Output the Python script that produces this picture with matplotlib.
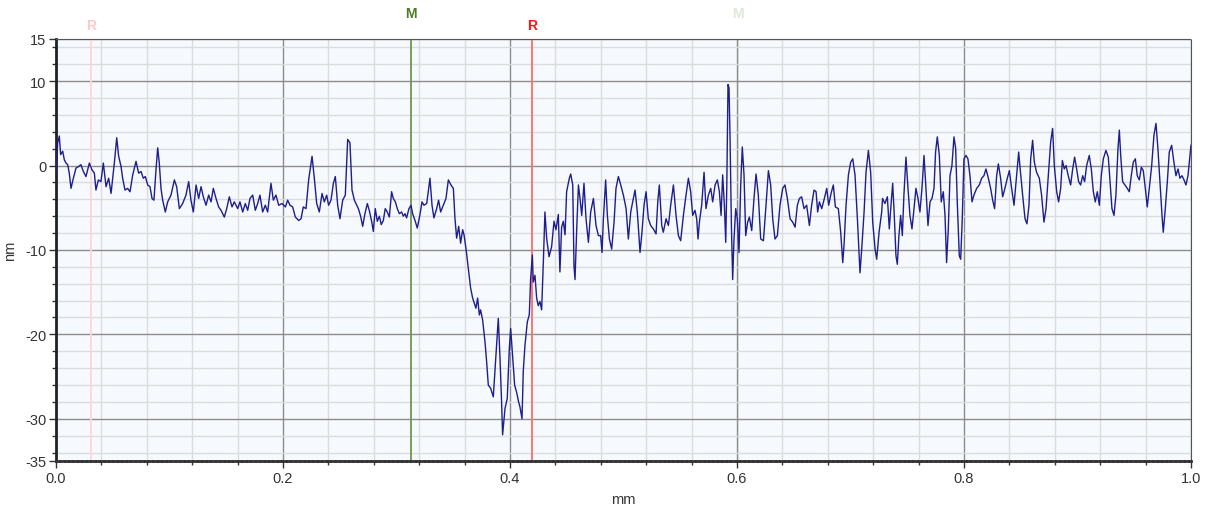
import numpy as np
import matplotlib.pyplot as plt
from matplotlib.ticker import MultipleLocator

plt.rcParams['font.family'] = ['Liberation Sans', 'DejaVu Sans']
plt.rcParams['axes.unicode_minus'] = False

# profile trace, (position mm, height nm), split into four stretches
trace_flat = [
    (0.0000, -0.9), (0.0015, 2.7), (0.0029, 3.5), (0.0041, 1.3), (0.0059, 1.7), (0.0073, 0.7),
    (0.0088, 0.3), (0.0103, 0.1), (0.0117, -0.9), (0.0132, -2.7), (0.0153, -1.5), (0.0176, -0.3),
    (0.0200, -0.1), (0.0220, 0.1), (0.0241, -0.7), (0.0264, -1.3), (0.0294, 0.3), (0.0317, -0.5),
    (0.0338, -0.9), (0.0352, -2.9), (0.0373, -1.7), (0.0396, -1.9), (0.0417, 0.3), (0.0441, -2.5),
    (0.0464, -1.5), (0.0485, -3.3), (0.0514, 0.3), (0.0535, 3.3), (0.0552, 1.1), (0.0573, -0.1),
    (0.0587, -1.5), (0.0608, -2.9), (0.0631, -2.7), (0.0652, -3.1), (0.0676, -1.1), (0.0705, 0.5),
    (0.0728, -0.9), (0.0749, -0.7), (0.0769, -1.5), (0.0787, -1.3), (0.0808, -2.3), (0.0828, -2.5),
    (0.0846, -3.9), (0.0863, -4.1), (0.0881, -0.5), (0.0896, 2.1), (0.0910, 0.3), (0.0925, -2.7),
    (0.0940, -4.1), (0.0963, -5.5), (0.0984, -4.3), (0.1013, -3.5), (0.1043, -1.7), (0.1063, -2.5),
    (0.1087, -5.1), (0.1116, -4.5), (0.1145, -3.5), (0.1169, -1.9), (0.1189, -4.1), (0.1210, -5.5),
    (0.1234, -2.3), (0.1257, -3.9), (0.1278, -2.5), (0.1298, -3.7), (0.1322, -4.7), (0.1345, -3.5),
    (0.1366, -4.3), (0.1386, -2.7), (0.1410, -3.9), (0.1433, -4.9), (0.1454, -5.3), (0.1483, -6.1),
    (0.1504, -5.1), (0.1527, -3.7), (0.1551, -4.9), (0.1571, -4.3), (0.1601, -5.1), (0.1621, -4.3),
    (0.1645, -5.5), (0.1668, -4.5), (0.1689, -5.3), (0.1709, -3.9), (0.1733, -3.5), (0.1756, -5.3),
    (0.1777, -4.5), (0.1797, -3.5), (0.1821, -5.5), (0.1844, -4.7), (0.1865, -5.5), (0.1894, -2.1),
    (0.1915, -4.1), (0.1938, -3.5), (0.1962, -4.7), (0.1991, -4.5), (0.2021, -4.9), (0.2041, -4.1),
    (0.2062, -4.7), (0.2085, -4.9), (0.2109, -6.1), (0.2138, -6.5), (0.2159, -6.3), (0.2179, -4.9),
    (0.2203, -5.1), (0.2226, -1.7), (0.2256, 1.1), (0.2276, -1.5), (0.2297, -4.5), (0.2320, -5.5),
    (0.2344, -3.3), (0.2364, -4.3), (0.2385, -3.5), (0.2402, -4.7), (0.2423, -4.1), (0.2444, -2.1),
    (0.2461, -1.3), (0.2482, -4.7), (0.2502, -6.3), (0.2526, -4.1), (0.2549, -3.5), (0.2570, 3.1),
    (0.2590, 2.7), (0.2608, -2.9), (0.2629, -4.1),
]

trace_groove = [
    (0.2664, -5.1), (0.2684, -6.0), (0.2702, -7.2), (0.2722, -5.7), (0.2743, -4.5), (0.2760, -5.3),
    (0.2781, -6.6), (0.2796, -7.8), (0.2813, -5.1), (0.2831, -6.6), (0.2849, -6.0), (0.2866, -7.0),
    (0.2884, -6.5), (0.2901, -5.1), (0.2919, -5.5), (0.2937, -6.1), (0.2957, -3.1), (0.2972, -3.9),
    (0.2990, -4.3), (0.3007, -5.1), (0.3025, -5.7), (0.3045, -5.5), (0.3060, -6.0), (0.3075, -5.7),
    (0.3089, -6.2), (0.3110, -5.1), (0.3128, -4.7), (0.3142, -5.7), (0.3163, -6.5), (0.3183, -7.4),
    (0.3207, -5.8), (0.3225, -4.3), (0.3242, -4.7), (0.3266, -4.5), (0.3280, -3.1), (0.3295, -1.5),
    (0.3313, -4.7), (0.3330, -6.2), (0.3354, -5.1), (0.3371, -4.1), (0.3389, -5.5), (0.3412, -4.7),
    (0.3436, -3.9), (0.3457, -1.7), (0.3480, -2.3), (0.3501, -2.7), (0.3515, -6.2), (0.3530, -8.6),
    (0.3548, -7.2), (0.3565, -9.2), (0.3583, -7.6), (0.3595, -8.2), (0.3612, -9.8), (0.3633, -12.2),
    (0.3653, -14.5), (0.3671, -15.7), (0.3686, -16.3), (0.3700, -16.9), (0.3715, -15.7), (0.3730, -17.7),
    (0.3741, -17.1), (0.3759, -18.3), (0.3780, -20.9), (0.3794, -23.2), (0.3809, -26.0), (0.3830, -26.4),
    (0.3853, -27.4), (0.3871, -23.6), (0.3882, -21.3), (0.3897, -18.1), (0.3912, -22.8), (0.3926, -28.0),
    (0.3935, -31.9), (0.3956, -28.8), (0.3976, -27.6), (0.3994, -21.7), (0.4006, -19.3), (0.4023, -22.5),
    (0.4041, -26.0), (0.4059, -26.9), (0.4076, -28.0), (0.4088, -28.6), (0.4106, -30.0), (0.4117, -24.4),
    (0.4132, -21.3), (0.4153, -18.5), (0.4170, -17.7), (0.4182, -13.4), (0.4197, -10.6), (0.4205, -13.8),
    (0.4220, -13.0), (0.4235, -15.7), (0.4249, -16.6), (0.4264, -16.1), (0.4279, -17.1), (0.4294, -11.4),
    (0.4308, -5.5), (0.4323, -8.6), (0.4344, -10.8), (0.4367, -9.6), (0.4388, -6.6), (0.4405, -7.6),
    (0.4426, -5.8), (0.4440, -12.6), (0.4455, -7.3), (0.4470, -6.6), (0.4485, -8.2), (0.4499, -3.1),
]

trace_mid = [
    (0.4523, -1.5), (0.4535, -1.0), (0.4553, -2.3), (0.4564, -11.9), (0.4573, -13.5), (0.4588, -7.5),
    (0.4603, -2.3), (0.4617, -3.9), (0.4632, -5.9), (0.4652, -2.1), (0.4670, -6.3), (0.4691, -9.1),
    (0.4711, -5.5), (0.4735, -3.9), (0.4758, -7.1), (0.4779, -8.3), (0.4799, -8.3), (0.4811, -10.3),
    (0.4823, -6.3), (0.4843, -1.7), (0.4858, -5.9), (0.4876, -8.7), (0.4896, -9.9), (0.4917, -6.7),
    (0.4934, -2.7), (0.4955, -1.3), (0.4976, -2.3), (0.4999, -3.5), (0.5023, -5.1), (0.5043, -8.7),
    (0.5064, -5.5), (0.5081, -4.3), (0.5102, -2.9), (0.5122, -5.5), (0.5146, -10.3), (0.5163, -7.9),
    (0.5181, -4.7), (0.5199, -3.1), (0.5219, -6.3), (0.5240, -7.1), (0.5263, -7.5), (0.5287, -8.1),
    (0.5302, -4.3), (0.5316, -2.3), (0.5337, -7.1), (0.5351, -7.9), (0.5375, -6.3), (0.5396, -7.1),
    (0.5416, -4.7), (0.5440, -2.3), (0.5463, -5.9), (0.5484, -8.3), (0.5504, -8.9), (0.5528, -5.9),
    (0.5551, -3.5), (0.5572, -1.5), (0.5592, -3.1), (0.5610, -5.9), (0.5630, -5.3), (0.5645, -6.3),
    (0.5657, -8.7), (0.5669, -6.7), (0.5689, -4.7), (0.5710, -0.8), (0.5727, -5.1), (0.5748, -3.5),
    (0.5769, -2.7), (0.5786, -4.3), (0.5807, -2.3), (0.5827, -1.7), (0.5845, -3.1), (0.5860, -5.9),
    (0.5874, -1.1), (0.5889, -4.7), (0.5901, -9.1), (0.5910, -2.7), (0.5921, 9.6), (0.5930, 9.2),
    (0.5939, 3.2), (0.5951, -7.1), (0.5962, -13.5), (0.5974, -8.7), (0.5989, -5.1), (0.6003, -6.3),
    (0.6018, -10.3), (0.6033, -2.3), (0.6047, 2.2), (0.6062, -1.1), (0.6077, -8.3), (0.6094, -6.7),
    (0.6109, -6.1), (0.6130, -7.7), (0.6150, -3.9), (0.6168, -1.0), (0.6188, -3.5), (0.6209, -8.7),
    (0.6233, -8.9), (0.6256, -4.7), (0.6277, -0.6), (0.6297, -2.3), (0.6315, -6.3), (0.6335, -8.7),
    (0.6356, -8.3), (0.6379, -4.7), (0.6403, -2.7), (0.6423, -2.3), (0.6444, -3.9), (0.6468, -6.3),
    (0.6491, -6.7), (0.6512, -7.3), (0.6532, -4.7), (0.6550, -3.9), (0.6570, -3.7), (0.6591, -5.1),
    (0.6614, -4.7), (0.6638, -7.1), (0.6658, -4.7), (0.6679, -2.9), (0.6697, -3.1), (0.6711, -5.5),
    (0.6726, -4.3), (0.6747, -5.1), (0.6770, -3.9), (0.6791, -2.7), (0.6808, -4.7), (0.6829, -3.3),
    (0.6849, -2.3), (0.6867, -4.9), (0.6893, -5.1), (0.6914, -7.9), (0.6932, -11.5), (0.6943, -9.5),
    (0.6961, -4.7), (0.6982, -1.1), (0.7002, 0.4), (0.7020, 0.8), (0.7040, -1.1), (0.7061, -6.3),
    (0.7084, -12.7), (0.7099, -9.9), (0.7120, -5.5), (0.7137, -0.8), (0.7158, 1.8), (0.7178, -0.8),
    (0.7196, -6.7), (0.7217, -9.9), (0.7231, -11.1), (0.7252, -7.9), (0.7275, -5.5),
]

trace_right = [
    (0.7283, -3.9), (0.7304, -4.5), (0.7325, -3.7), (0.7342, -7.5), (0.7357, -4.7), (0.7372, -2.1),
    (0.7386, -5.9), (0.7401, -10.7), (0.7413, -11.7), (0.7427, -8.3), (0.7442, -5.9), (0.7457, -8.3),
    (0.7471, -3.5), (0.7489, 1.0), (0.7507, -2.7), (0.7524, -5.9), (0.7542, -7.5), (0.7560, -5.1),
    (0.7577, -2.7), (0.7595, -3.9), (0.7612, -5.5), (0.7630, -2.7), (0.7648, 1.2), (0.7665, -2.7),
    (0.7683, -7.1), (0.7701, -4.3), (0.7718, -3.9), (0.7736, -2.7), (0.7750, 1.6), (0.7765, 3.4),
    (0.7783, 1.2), (0.7800, -4.3), (0.7818, -3.1), (0.7833, -5.9), (0.7847, -11.5), (0.7862, -7.5),
    (0.7877, -1.2), (0.7894, 0.0), (0.7912, 3.4), (0.7927, 2.0), (0.7941, -4.3), (0.7959, -10.7),
    (0.7971, -11.1), (0.7985, -6.3), (0.8000, 0.8), (0.8018, 1.2), (0.8035, 0.8), (0.8053, -1.2),
    (0.8071, -4.3), (0.8088, -3.5), (0.8112, -2.7), (0.8135, -2.3), (0.8156, -1.5), (0.8176, -1.2),
    (0.8194, -0.4), (0.8215, -1.5), (0.8235, -2.7), (0.8253, -4.1), (0.8270, -5.1), (0.8288, -1.2),
    (0.8303, 0.2), (0.8323, -1.5), (0.8341, -3.7), (0.8361, -2.7), (0.8382, -1.5), (0.8400, -0.6),
    (0.8420, -2.7), (0.8441, -4.7), (0.8464, -1.2), (0.8482, 1.6), (0.8494, -0.2), (0.8517, -3.5),
    (0.8538, -6.3), (0.8555, -6.9), (0.8573, -4.7), (0.8588, 0.8), (0.8605, 3.0), (0.8620, 0.4),
    (0.8640, -0.8), (0.8664, -1.5), (0.8684, -3.5), (0.8705, -6.7), (0.8723, -5.1), (0.8743, -1.2),
    (0.8764, 2.8), (0.8781, 4.4), (0.8796, 0.0), (0.8817, -3.1), (0.8834, -4.3), (0.8852, -2.7),
    (0.8867, 0.6), (0.8884, -0.4), (0.8899, 0.0), (0.8919, -1.2), (0.8940, -2.3), (0.8958, -0.4),
    (0.8975, 1.0), (0.8993, -0.4), (0.9010, -1.9), (0.9028, -2.3), (0.9046, -1.2), (0.9063, -1.9),
    (0.9081, 0.0), (0.9104, 1.2), (0.9122, -0.4), (0.9140, -3.1), (0.9157, -4.3), (0.9175, -3.1),
    (0.9193, -4.7), (0.9210, -1.2), (0.9228, 0.8), (0.9251, 1.8), (0.9272, 1.0), (0.9287, -1.9),
    (0.9304, -5.1), (0.9322, -5.9), (0.9339, -3.5), (0.9357, 2.0), (0.9369, 4.2), (0.9381, 1.2),
    (0.9398, -1.9), (0.9419, -2.3), (0.9439, -2.7), (0.9457, -3.1), (0.9474, -1.2), (0.9492, 0.4),
    (0.9510, 0.8), (0.9527, -1.2), (0.9545, -1.7), (0.9563, -0.2), (0.9580, -0.6), (0.9598, -2.7),
    (0.9615, -4.9), (0.9633, -2.7), (0.9654, 0.0), (0.9674, 3.6), (0.9692, 5.0), (0.9709, 2.0),
    (0.9727, -1.9), (0.9745, -5.9), (0.9756, -7.9), (0.9774, -5.1), (0.9792, -1.9), (0.9809, 1.6),
    (0.9830, 2.4), (0.9850, 0.4), (0.9868, -1.2), (0.9886, -0.4), (0.9903, -1.5), (0.9921, -1.2),
    (0.9939, -1.7), (0.9956, -2.3), (0.9974, -1.2), (0.9991, 1.2), (1.0000, 2.4),
]

# measurement cursors
cursor_pos = [0.031, 0.3128, 0.4196, 0.601]
cursor_tags = ['R', 'M', 'R', 'M']
cursor_line_colors = ['#ffd6d6', '#6f9650', '#ff6b6b', '#e4ebdc']
cursor_text_colors = ['#ffc8c8', '#4f7a2c', '#f01818', '#e0e8d6']
cursor_text_y = [16.7, 18.1, 16.7, 18.1]
cursor_layer = [1.5, 1.5, 1.5, 0.4]   # the inactive M cursor sits under the grid

profile = np.vstack([trace_flat, trace_groove, trace_mid, trace_right])

fig = plt.figure(figsize=(12.07, 5.06), dpi=100)
ax = fig.add_axes([0.0464, 0.087, 0.9403, 0.834])
ax.set_facecolor('#f6f9fe')

ax.set_xlim(0, 1.0)
ax.set_ylim(-35, 15)
ax.xaxis.set_minor_locator(MultipleLocator(0.04))
ax.yaxis.set_minor_locator(MultipleLocator(2))
ax.set_yticks([-35, -30, -20, -10, 0, 10, 15])
ax.set_xticks([0.0, 0.2, 0.4, 0.6, 0.8, 1.0])
ax.set_xticklabels(['0.0', '0.2', '0.4', '0.6', '0.8', '1.0'])

ax.grid(which='minor', color='#dcdcdc', lw=1.0)
ax.grid(which='major', color='#8c8c8c', lw=1.0)
ax.set_axisbelow(True)

ax.tick_params(which='major', direction='out', length=5, width=1, color='#333333',
               labelsize=10.5, labelcolor='#333333', pad=2)
ax.tick_params(which='minor', direction='out', length=3, width=1, color='#333333')

for side in ['top', 'right']:
    ax.spines[side].set_linestyle((0, (1, 1)))
    ax.spines[side].set_linewidth(0.8)
    ax.spines[side].set_color('#555555')
ax.spines['bottom'].set_linestyle((0, (1, 0.6)))
ax.spines['bottom'].set_linewidth(2.0)
ax.spines['bottom'].set_color('#333333')
ax.spines['left'].set_linewidth(2.0)
ax.spines['left'].set_color('#222222')

for pos, tag, lc, tc, ty, zo in zip(cursor_pos, cursor_tags, cursor_line_colors,
                                    cursor_text_colors, cursor_text_y, cursor_layer):
    ax.axvline(pos, color=lc, lw=1.3, zorder=zo)
    ax.text(pos, ty, tag, color=tc, fontsize=10, fontweight='bold',
            ha='center', va='center', clip_on=False)

ax.plot(profile[:, 0], profile[:, 1], color='#1e1e8e', lw=1.0, zorder=3)

ax.set_xlabel('mm', fontsize=10.5, color='#333333', labelpad=5)
ax.set_ylabel('nm', fontsize=10.5, color='#333333', labelpad=6)

fig.savefig('out.png', dpi=100)
